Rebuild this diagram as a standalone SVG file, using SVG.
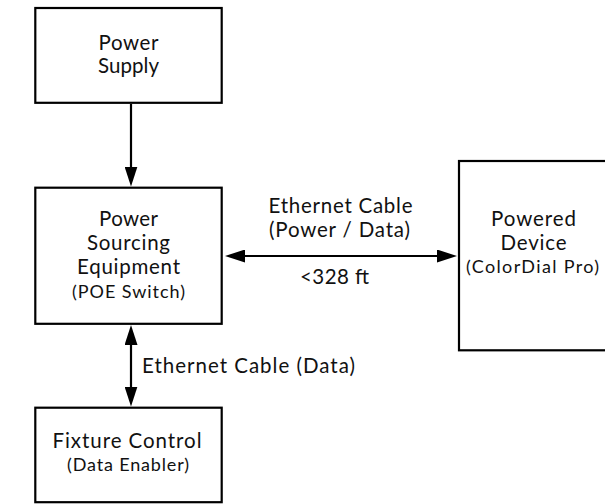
<svg xmlns="http://www.w3.org/2000/svg" width="605" height="504" viewBox="0 0 605 504">
<style>
.box{fill:#fff;stroke:#000;stroke-width:2.2}
.t{font-family:Lato,"Noto Sans","Liberation Sans",sans-serif;font-size:20.5px;fill:#111;text-anchor:middle}
.s{font-size:18px}
.l{text-anchor:start}
.edge{stroke:#000;stroke-width:2.2;fill:none}
</style>
<defs>
<marker id="ah" viewBox="0 0 20 13" refX="14" refY="6.5" markerWidth="20" markerHeight="13" markerUnits="userSpaceOnUse" orient="auto-start-reverse">
<path d="M0,0 L20,6.5 L0,13 z" fill="#000"/>
</marker>
</defs>
<rect width="605" height="504" fill="#fff"/>
<g id="connectors">
<line class="edge" x1="131" y1="104" x2="131" y2="180.5" marker-end="url(#ah)"/>
<line class="edge" x1="231" y1="256" x2="451" y2="256" marker-start="url(#ah)" marker-end="url(#ah)"/>
<line class="edge" x1="131" y1="331" x2="131" y2="400.5" marker-start="url(#ah)" marker-end="url(#ah)"/>
<text class="t" x="340.5" y="213" textLength="144" lengthAdjust="spacing">Ethernet Cable</text>
<text class="t" x="339.5" y="237" textLength="141" lengthAdjust="spacing">(Power / Data)</text>
<text class="t" x="334.5" y="284" textLength="69" lengthAdjust="spacing">&lt;328 ft</text>
<text class="t l" x="142" y="372.5" textLength="213" lengthAdjust="spacing">Ethernet Cable (Data)</text>
</g>
<g id="power-supply">
<rect class="box" x="35.3" y="8" width="186.4" height="94.8"/>
<text class="t" x="128.5" y="50" textLength="60" lengthAdjust="spacing">Power</text>
<text class="t" x="128.5" y="73" textLength="61" lengthAdjust="spacing">Supply</text>
</g>
<g id="pse">
<rect class="box" x="35.3" y="187.7" width="186.4" height="136.1"/>
<text class="t" x="128.5" y="226" textLength="59" lengthAdjust="spacing">Power</text>
<text class="t" x="128.5" y="250" textLength="83" lengthAdjust="spacing">Sourcing</text>
<text class="t" x="128.5" y="274" textLength="103" lengthAdjust="spacing">Equipment</text>
<text class="t s" x="128.5" y="298" textLength="113" lengthAdjust="spacing">(POE Switch)</text>
</g>
<g id="powered-device">
<rect class="box" x="459" y="161" width="150" height="189.3"/>
<text class="t" x="533.5" y="226" textLength="85" lengthAdjust="spacing">Powered</text>
<text class="t" x="533.5" y="250" textLength="66" lengthAdjust="spacing">Device</text>
<text class="t s" x="532.5" y="273" textLength="133" lengthAdjust="spacing">(ColorDial Pro)</text>
</g>
<g id="fixture-control">
<rect class="box" x="35.3" y="407.7" width="186.4" height="94.5"/>
<text class="t" x="127" y="448" textLength="149" lengthAdjust="spacing">Fixture Control</text>
<text class="t s" x="128" y="471" textLength="122" lengthAdjust="spacing">(Data Enabler)</text>
</g>
</svg>
